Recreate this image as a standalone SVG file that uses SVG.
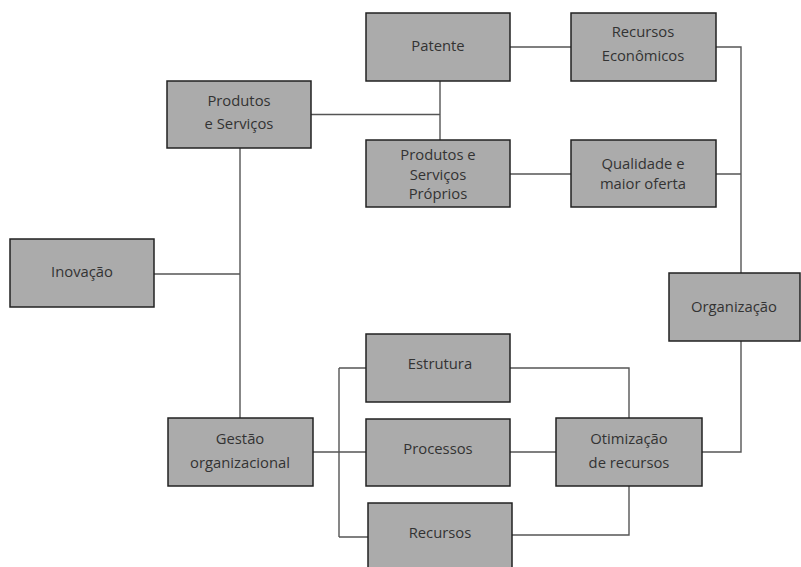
<svg xmlns="http://www.w3.org/2000/svg" width="801" height="567" viewBox="0 0 801 567">
<style>
.box{fill:#ababab;stroke:#222;stroke-width:1.5}
.lbl{font-family:"Open Sans","Noto Sans","Liberation Sans",sans-serif;font-size:14.8px;fill:#333;text-anchor:middle}
.con{fill:none;stroke:#555;stroke-width:1.4}
</style>
<rect width="801" height="567" fill="#fff"/>
<g id="connectors">
<path class="con" d="M311,114.5H440M440,81V140"/>
<path class="con" d="M510,47H571"/>
<path class="con" d="M510,174H571"/>
<path class="con" d="M716,47H741V273M716,174H741"/>
<path class="con" d="M741,341V452H702"/>
<path class="con" d="M240,148V418M154,274H240"/>
<path class="con" d="M313,452H366M339,368V537M339,368H366M339,537H368"/>
<path class="con" d="M510,368H629V418"/>
<path class="con" d="M510,452H556"/>
<path class="con" d="M629,486V535H512"/>
</g>
<g id="produtos-servicos"><rect class="box" x="167" y="81" width="144" height="67"/><text class="lbl" x="239" y="106">Produtos</text><text class="lbl" x="239" y="129">e Serviços</text></g>
<g id="inovacao"><rect class="box" x="10" y="239" width="144" height="68"/><text class="lbl" x="82" y="277">Inovação</text></g>
<g id="patente"><rect class="box" x="366" y="13" width="144" height="68"/><text class="lbl" x="438" y="51">Patente</text></g>
<g id="recursos-economicos"><rect class="box" x="571" y="13" width="145" height="68"/><text class="lbl" x="643" y="37">Recursos</text><text class="lbl" x="643" y="61">Econômicos</text></g>
<g id="produtos-servicos-proprios"><rect class="box" x="366" y="140" width="144" height="67"/><text class="lbl" x="438" y="160">Produtos e</text><text class="lbl" x="438" y="180">Serviços</text><text class="lbl" x="438" y="199">Próprios</text></g>
<g id="qualidade"><rect class="box" x="571" y="140" width="145" height="67"/><text class="lbl" x="643" y="169">Qualidade e</text><text class="lbl" x="643" y="189">maior oferta</text></g>
<g id="organizacao"><rect class="box" x="669" y="273" width="131" height="68"/><text class="lbl" x="734" y="312">Organização</text></g>
<g id="estrutura"><rect class="box" x="366" y="334" width="144" height="68"/><text class="lbl" x="440" y="369">Estrutura</text></g>
<g id="processos"><rect class="box" x="366" y="419" width="144" height="67"/><text class="lbl" x="438" y="454">Processos</text></g>
<g id="recursos"><rect class="box" x="368" y="503" width="144" height="66"/><text class="lbl" x="440" y="538">Recursos</text></g>
<g id="gestao"><rect class="box" x="168" y="418" width="145" height="68"/><text class="lbl" x="240" y="444">Gestão</text><text class="lbl" x="240" y="468">organizacional</text></g>
<g id="otimizacao"><rect class="box" x="556" y="418" width="146" height="68"/><text class="lbl" x="629" y="444">Otimização</text><text class="lbl" x="629" y="468">de recursos</text></g>
</svg>
